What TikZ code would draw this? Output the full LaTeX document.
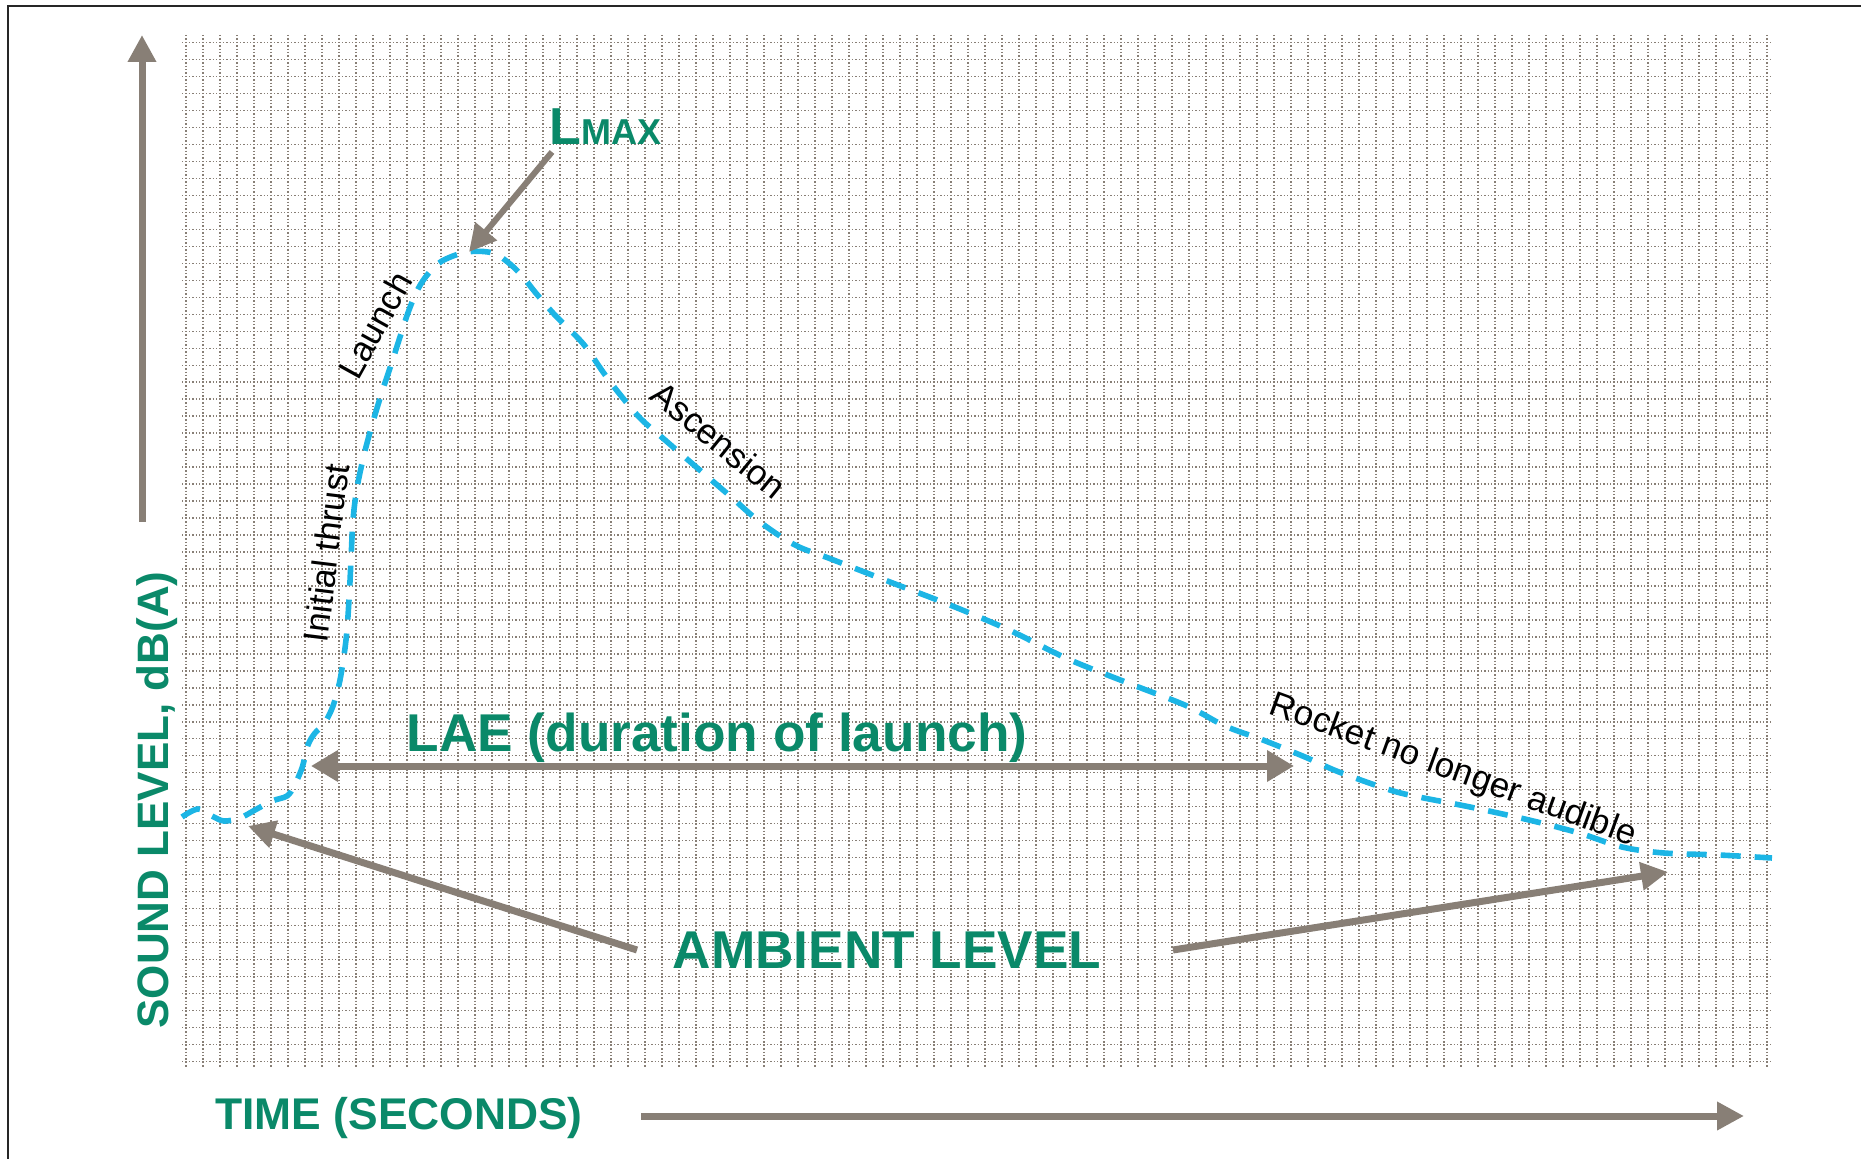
\documentclass[tikz,border=0pt]{standalone}
\usepackage{fontspec}
\setmainfont{Liberation Sans}
\usetikzlibrary{arrows.meta}
\definecolor{lblgreen}{RGB}{10,137,105}
\definecolor{arrgray}{RGB}{136,127,118}
\definecolor{curveblue}{RGB}{28,181,229}
\newcommand{\fsz}[1]{\fontsize{#1}{#1}\selectfont}

\begin{document}
\begin{tikzpicture}[x=0.5pt,y=-0.5pt,
  gridline/.style={arrgray,line width=0.6pt,dash pattern=on 0.7pt off 1pt},
  grayarrow/.style={arrgray,line width=3.5pt,-{Triangle[width=13.5pt,length=13.5pt]}},
  lvlcurve/.style={curveblue,line width=2.8pt,dash pattern=on 10pt off 7pt},
  greenlbl/.style={text=lblgreen,font=\bfseries,inner sep=0pt,anchor=base},
  phase/.style={text=black,inner sep=0pt,font=\fsz{17.5pt}}]
\useasboundingbox (0,0) rectangle (1861,1159);
\draw[line width=1pt,black!85] (7.5,1159) -- (7.5,6) -- (1861,6);
% dotted grid
\foreach \gx in {0,...,93} {
  \draw[gridline] ({186+17*\gx},35) -- ++(0,1032);
}
\foreach \gy in {0,...,60} {
  \draw[gridline] (182,{42.3+16.99*\gy}) -- ++(1591,0);
}
% sound level trace
\draw[lvlcurve] plot[smooth,tension=0.55] coordinates {
  (182,817) (198,809) (212,816) (224,821) (240,818) (255,810) (272,801)
  (287,796) (294,786) (302,768) (308,745) (315,733) (324,724) (333,706)
  (340,680) (346,640) (349,600) (351,560) (353,520) (357,488) (364,455)
  (372,425) (382,392) (392,362) (400,337) (409,310) (418,289) (428,274)
  (442,261) (467,252) (493,253) (510,264) (523,277) (535,292) (553,313)
  (568,328) (585,346) (603,372) (618,392) (640,418) (665,440) (695,466)
  (730,496) (760,522) (795,545) (831,559) (890,582) (950,605) (1009,630)
  (1068,659) (1128,683) (1187,706) (1225,726) (1263,740) (1305,757)
  (1339,772) (1390,790) (1419,797) (1470,807) (1529,820) (1579,833)
  (1622,847) (1664,853) (1719,855) (1772,858)};
% axes
\coordinate (yfoot) at (142,522);
\coordinate (ytip) at (142,35);
\coordinate (xfoot) at (641,1116);
\coordinate (xtip) at (1744,1116);
\draw[grayarrow] (yfoot) -- (ytip);
\draw[grayarrow] (xfoot) -- (xtip);
\node[greenlbl,rotate=90,font=\bfseries\fsz{22pt}] (soundlbl) at (168,800) {SOUND LEVEL, dB(A)};
\node[greenlbl,font=\bfseries\fsz{22.2pt}] (timelbl) at (399,1129) {TIME (SECONDS)};
% labels
\node[greenlbl,anchor=base west] (lmax) at (549,145)
  {{\fsz{26pt}L}{\fsz{18pt}MAX}};
\node[greenlbl,font=\bfseries\fsz{26.6pt}] (lae) at (717,751) {LAE (duration of launch)};
\node[greenlbl,font=\bfseries\fsz{26.6pt}] (ambient) at (887,968) {AMBIENT LEVEL};
\node[phase,rotate=83] (thrustlbl) at (326,553) {Initial thrust};
\node[phase,rotate=61] (launchlbl) at (375,325) {Launch};
\node[phase,rotate=-39] (ascentlbl) at (719,440) {Ascension};
\node[phase,rotate=-20] (rocketlbl) at (1453,771) {Rocket no longer audible};
% pointers
\coordinate (peak) at (469,252);
\coordinate (lmaxfoot) at (552,152);
\coordinate (laeL) at (311,766);
\coordinate (laeR) at (1294,766);
\coordinate (ambL) at (637,950);
\coordinate (ambR) at (1173,950);
\coordinate (floorL) at (248,826);
\coordinate (floorR) at (1668,872);
\draw[grayarrow,line width=3pt] (lmaxfoot) -- (peak);
\draw[grayarrow,{Triangle[width=15pt,length=13.5pt]}-{Triangle[width=15pt,length=13.5pt]}] (laeL) -- (laeR);
\draw[grayarrow] (ambL) -- (floorL);
\draw[grayarrow] (ambR) -- (floorR);
\end{tikzpicture}
\end{document}
